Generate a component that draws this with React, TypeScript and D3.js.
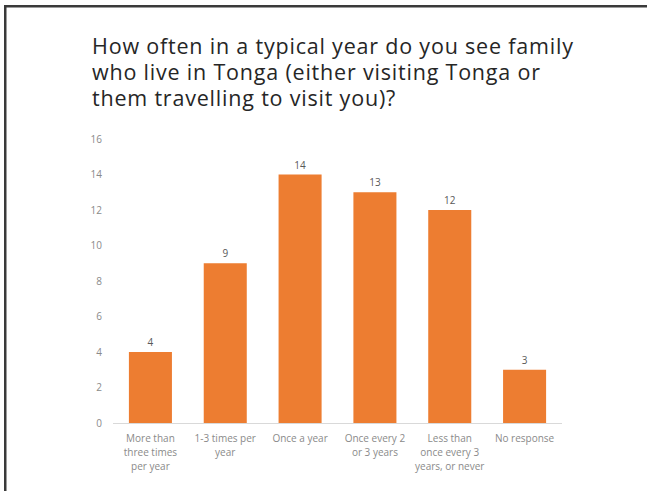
import React from "react";
import * as d3 from "d3";

const categories: string[] = [
  "More than three times per year",
  "1-3 times per year",
  "Once a year",
  "Once every 2 or 3 years",
  "Less than once every 3 years, or never",
  "No response",
];
const categoryLines: string[][] = [
  ["More than", "three times", "per year"],
  ["1-3 times per", "year"],
  ["Once a year"],
  ["Once every 2", "or 3 years"],
  ["Less than", "once every 3", "years, or never"],
  ["No response"],
];
const values: number[] = [4, 9, 14, 13, 12, 3];
const yTicks: number[] = [0, 2, 4, 6, 8, 10, 12, 14, 16];
const titleLines: string[] = [
  "How often in a typical year do you see family",
  "who live in Tonga (either visiting Tonga or",
  "them travelling to visit you)?",
];

const W = 647;
const H = 491;
const FONT = "'Open Sans', 'Noto Sans', Arial, sans-serif";

export default function App() {
  const x = d3
    .scaleBand<string>()
    .domain(categories)
    .range([113, 562])
    .paddingInner(0.425)
    .paddingOuter(0.2125);
  const y = d3.scaleLinear().domain([0, 16]).range([423, 139]);

  return (
    <svg
      width={W}
      height={H}
      style={{ position: "absolute", left: 0, top: 0, background: "#fff" }}
      fontFamily={FONT}
    >
      <rect x={0} y={0} width={W} height={H} fill="#fff" />
      <rect x={4} y={5} width={W - 4} height={2.5} fill="#3a3a3a" />
      <rect x={4} y={5} width={2.5} height={H - 5} fill="#3a3a3a" />

      {titleLines.map((t, i) => (
        <text
          key={i}
          x={92}
          y={53.5 + i * 26}
          fontSize={21.5}
          letterSpacing={0.8}
          fill="#262626"
        >
          {t}
        </text>
      ))}

      {yTicks.map((t) => (
        <text
          key={t}
          x={102}
          y={y(t)}
          dy="0.35em"
          textAnchor="end"
          fontSize={10}
          fill="#8a8a8a"
        >
          {t}
        </text>
      ))}

      {categories.map((c, i) => (
        <rect
          key={c}
          x={x(c)}
          y={y(values[i])}
          width={x.bandwidth()}
          height={y(0) - y(values[i])}
          fill="#ED7D31"
        />
      ))}

      <line x1={113} x2={562} y1={423.5} y2={423.5} stroke="#d9d9d9" strokeWidth={1} />

      {categories.map((c, i) => (
        <text
          key={c}
          x={(x(c) as number) + x.bandwidth() / 2}
          y={y(values[i]) - 6}
          textAnchor="middle"
          fontSize={10}
          fill="#595959"
        >
          {values[i]}
        </text>
      ))}

      {categories.map((c, i) => (
        <text
          key={c}
          x={(x(c) as number) + x.bandwidth() / 2}
          textAnchor="middle"
          fontSize={10}
          fill="#8a8a8a"
        >
          {categoryLines[i].map((l, j) => (
            <tspan key={j} x={(x(c) as number) + x.bandwidth() / 2} y={441.5 + j * 14}>
              {l}
            </tspan>
          ))}
        </text>
      ))}
    </svg>
  );
}
